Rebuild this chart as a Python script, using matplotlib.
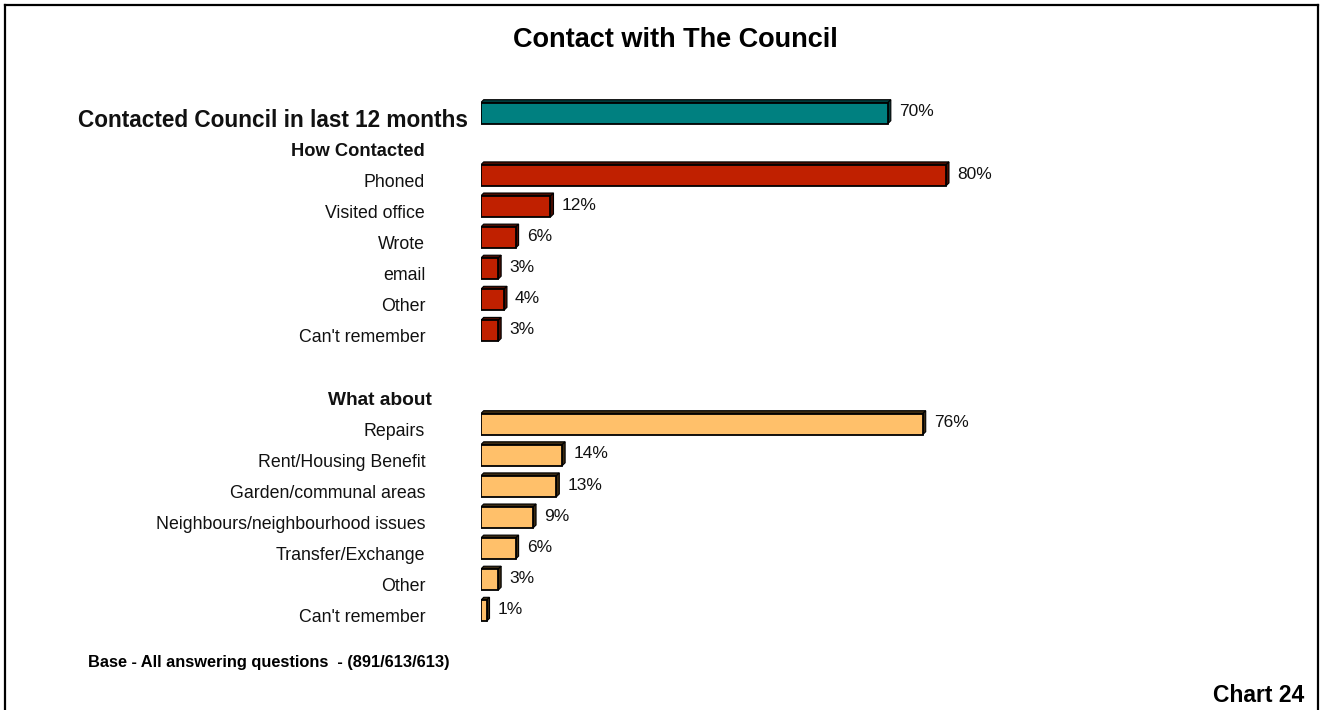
import matplotlib
matplotlib.use('Agg')
import matplotlib.pyplot as plt
from matplotlib.patches import Polygon, Rectangle
from matplotlib.lines import Line2D

plt.rcParams['font.family'] = ['Liberation Sans', 'DejaVu Sans']

TITLE = 'Contact with The Council'
CONTACTED_LABEL = 'Contacted Council in last 12 months'
CONTACTED_VALUE = 70

HOW_HEADER = 'How Contacted'
HOW_LABELS = ['Phoned', 'Visited office', 'Wrote', 'email', 'Other', "Can't remember"]
HOW_VALUES = [80, 12, 6, 3, 4, 3]

ABOUT_HEADER = 'What about'
ABOUT_LABELS = ['Repairs', 'Rent/Housing Benefit', 'Garden/communal areas',
                'Neighbours/neighbourhood issues', 'Transfer/Exchange', 'Other',
                "Can't remember"]
ABOUT_VALUES = [76, 14, 13, 9, 6, 3, 1]

FOOTNOTE = 'Base - All answering questions  - (891/613/613)'
CHART_NO = 'Chart 24'

TEAL = ('#008080', '#003c3c')
RED = ('#c02000', '#4a0c00')
ORANGE = ('#ffc06a', '#3a2a12')

W, H = 1321, 710
fig = plt.figure(figsize=(W / 100, H / 100), dpi=100)
fig.patch.set_facecolor('white')

# plot area: bar baseline at x=481px, 5.816 px per percent; rows 31.1 px apart
ax = fig.add_axes([480.7 / W, 1 - 626.35 / H, 581.6 / W, 528.7 / H])
ax.set_xlim(0, 100)
ax.set_ylim(16.5, -0.5)
ax.axis('off')

BAR_H = 0.675
DX = 3 / 5.816      # depth of the fake 3d faces, in percent
DY = 3 / 31.1       # and in rows


def bar3d(row, value, colors):
    face, dark = colors
    top = row - BAR_H / 2
    bot = row + BAR_H / 2
    ax.add_patch(Polygon([(0, top), (DX, top - DY), (value + DX, top - DY), (value, top)],
                         closed=True, facecolor=dark, edgecolor='black', lw=0.8))
    ax.add_patch(Polygon([(value, top), (value + DX, top - DY), (value + DX, bot - DY), (value, bot)],
                         closed=True, facecolor=dark, edgecolor='black', lw=0.8))
    ax.add_patch(Rectangle((0, top), value, BAR_H, facecolor=face,
                           edgecolor='black', lw=1.3))
    ax.annotate(f'{value}%', xy=(value, row), xytext=(8, 1), textcoords='offset points',
                ha='left', va='center', fontsize=12.5, color='#111111')


def row_label(row, text, bold=False, size=12.8, dx=-40):
    ax.annotate(text, xy=(0, row), xytext=(dx, -5), textcoords='offset points',
                ha='right', va='center', fontsize=size,
                fontweight='bold' if bold else 'normal', color='#111111')


# contacted at all
bar3d(0, CONTACTED_VALUE, TEAL)
row_label(0, CONTACTED_LABEL, bold=True, size=16.3, dx=-9)

# how contacted
row_label(1, HOW_HEADER, bold=True, size=13.2)
for i, (lab, val) in enumerate(zip(HOW_LABELS, HOW_VALUES)):
    bar3d(2 + i, val, RED)
    row_label(2 + i, lab)

# what about
about_start = 2 + len(HOW_LABELS) + 1
row_label(about_start, ABOUT_HEADER, bold=True, size=13.8, dx=-35)
for i, (lab, val) in enumerate(zip(ABOUT_LABELS, ABOUT_VALUES)):
    bar3d(about_start + 1 + i, val, ORANGE)
    row_label(about_start + 1 + i, lab)

fig.text(675 / W, 1 - 40 / H, TITLE, ha='center', va='center',
         fontsize=19.5, fontweight='bold')
fig.text(88 / W, 1 - 662 / H, FOOTNOTE, ha='left', va='center',
         fontsize=11.8, fontweight='bold')
fig.text(1304 / W, 1 - 695 / H, CHART_NO, ha='right', va='center',
         fontsize=16.5, fontweight='bold')

# open frame: left, top and right edges only
fx0, fx1, fy = 4.5 / W, 1318 / W, 1 - 5 / H
for xs, ys in [([fx0, fx0], [0, fy]), ([fx0, fx1], [fy, fy]), ([fx1, fx1], [fy, 0])]:
    fig.add_artist(Line2D(xs, ys, transform=fig.transFigure, color='black', lw=1.6))

fig.savefig('out.png', dpi=100)
